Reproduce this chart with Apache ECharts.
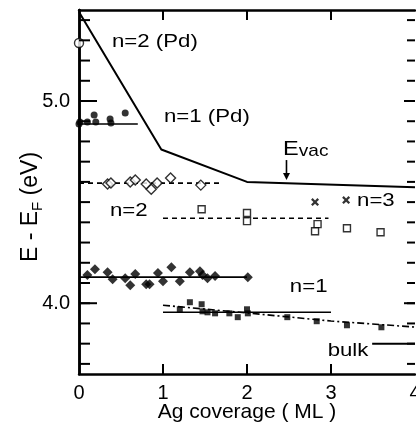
<!DOCTYPE html>
<html><head><meta charset="utf-8">
<script src="https://cdn.jsdelivr.net/npm/echarts@6/dist/echarts.min.js"></script>
<style>html,body{margin:0;padding:0;background:#fff}#c{width:416px;height:423px}</style>
</head><body><div id="c"></div>
<script>
// ---- tick values / labels ----
const xTickValues = [0, 1, 2, 3, 4];
const xInnerTicks = [1, 2, 3];
const yMajorTicks = [4.0, 5.0];
const yMinorTicks = [3.7, 3.8, 3.9, 4.0, 4.1, 4.2, 4.3, 4.4, 4.5, 4.6, 4.7, 4.8, 4.9, 5.0, 5.1, 5.2, 5.3, 5.4];
const xName = 'Ag coverage ( ML )';

// ---- data (Ag coverage ML, E - EF eV) ----
const evacLine = [[0, 5.44], [0.98, 4.76], [2.0, 4.60], [4.0, 4.574]];
const pdN2Points = [[0, 5.287]];
const pdN1Points = [[0, 4.886], [0.01, 4.896], [0.10, 4.896], [0.18, 4.931], [0.20, 4.896], [0.37, 4.911], [0.38, 4.891], [0.55, 4.941]];
const pdN1Fit = [[0, 4.886], [0.70, 4.886]];
const n2Diamonds = [[0.34, 4.589], [0.38, 4.594], [0.61, 4.599], [0.67, 4.609], [0.80, 4.589], [0.86, 4.564], [0.93, 4.594], [1.09, 4.619], [1.45, 4.584]];
const n2DiamondFit = [[0, 4.594], [1.70, 4.594]];
const n2Squares = [[1.46, 4.465], [2.00, 4.446], [2.00, 4.406], [2.84, 4.391], [2.81, 4.356], [3.19, 4.371], [3.59, 4.351]];
const n2SquareFit = [[1.0, 4.42], [2.97, 4.42]];
const n3Crosses = [[2.81, 4.50], [3.18, 4.51]];
const n1Diamonds = [[0.10, 4.139], [0.19, 4.168], [0.34, 4.153], [0.40, 4.119], [0.55, 4.124], [0.61, 4.089], [0.67, 4.144], [0.80, 4.094], [0.84, 4.094], [0.94, 4.149], [1.00, 4.109], [1.10, 4.178], [1.20, 4.109], [1.32, 4.153], [1.44, 4.158], [1.47, 4.139], [1.53, 4.124], [1.62, 4.134], [2.01, 4.129]];
const n1DiamondFit = [[0, 4.129], [2.0, 4.129]];
const n1Squares = [[1.20, 3.970], [1.32, 4.005], [1.46, 3.995], [1.47, 3.960], [1.53, 3.955], [1.62, 3.950], [1.79, 3.950], [1.89, 3.931], [2.00, 3.970], [2.01, 3.950], [2.48, 3.931], [2.83, 3.911], [3.19, 3.891], [3.60, 3.881]];
const n1SquareFit = [[1.0, 3.955], [3.0, 3.955]];
const n1Trend = [[1.0, 3.99], [2.0, 3.952], [3.0, 3.912], [4.0, 3.882]];
const bulkLine = [[3.49, 3.80], [4.0, 3.80]];
const evacArrow = [[2.47, 4.708], [2.47, 4.609]];

// ---- annotation labels [text, c, E] ----
const annotations = [
  ['n=2 (Pd)', 0.393, 5.292],
  ['n=1 (Pd)', 1.012, 4.921],
  ['n=2', 0.369, 4.455],
  ['n=3', 3.31, 4.505],
  ['n=1', 2.51, 4.079],
  ['bulk', 2.96, 3.762]
];
const evacLabelPos = [2.43, 4.77];

const FONT = '"Liberation Sans", Arial, Helvetica, sans-serif';
const chart = echarts.init(document.getElementById('c'), null, {renderer: 'canvas'});
const BLACK = '#000';
const crossPath = 'path://M0,2L2,0L5,3L8,0L10,2L7,5L10,8L8,10L5,7L2,10L0,8L3,5Z';

function lineSeries(data, type, width) {
  return {type: 'line', data, showSymbol: false, symbol: 'none', silent: true, z: 3,
    lineStyle: {color: BLACK, width: width || 1.6, type: type || 'solid'}};
}
function scatterSeries(data, symbol, size, filled) {
  return {type: 'scatter', data, symbol, symbolSize: size, clip: false, silent: true, z: 4,
    itemStyle: filled ? {color: BLACK} : {color: '#fff', borderColor: BLACK, borderWidth: 1.4}};
}
const yBase = {type: 'value', min: 3.65, max: 5.45, splitLine: {show: false}, axisTick: {show: false}};
const option = {
  animation: false,
  grid: {left: 79, right: 1, top: 10, bottom: 49, outerBoundsMode: 'none', containLabel: false},
  xAxis: [
    {type: 'value', min: 0, max: 4, interval: 1, position: 'bottom',
      axisLine: {show: true, lineStyle: {color: BLACK, width: 2.5}},
      axisTick: {show: false},
      axisLabel: {customValues: xTickValues, fontSize: 20, margin: 9, color: BLACK, fontFamily: FONT,
        alignMinLabel: 'center', alignMaxLabel: 'center', hideOverlap: false, formatter: v => String(v)},
      splitLine: {show: false},
      name: xName, nameLocation: 'middle', nameGap: 28, nameMoveOverlap: false,
      nameTextStyle: {fontSize: 21, color: BLACK, fontFamily: FONT}},
    {type: 'value', min: 0, max: 4, interval: 1, position: 'top',
      axisLine: {show: true, lineStyle: {color: BLACK, width: 2.5}},
      axisTick: {show: false},
      axisLabel: {show: false}, splitLine: {show: false}}
  ],
  yAxis: [
    Object.assign({}, yBase, {position: 'left',
      axisLine: {show: true, lineStyle: {color: BLACK, width: 2.5}},
      axisLabel: {customValues: yMajorTicks, fontSize: 20, margin: 9, color: BLACK, fontFamily: FONT, formatter: v => v.toFixed(1)},
      name: '{m|E - E}{s|F}{m| (eV)}', nameLocation: 'middle', nameGap: 34, nameMoveOverlap: false,
      nameTextStyle: {color: BLACK, fontFamily: FONT, padding: [0, 30, 0, 0],
        rich: {m: {fontSize: 23, fontFamily: FONT, color: BLACK, lineHeight: 28, verticalAlign: 'middle'},
               s: {fontSize: 15, fontFamily: FONT, color: BLACK, lineHeight: 28, verticalAlign: 'bottom'}}}}),
    Object.assign({}, yBase, {position: 'right',
      axisLine: {show: true, lineStyle: {color: BLACK, width: 2.5}},
      axisLabel: {show: false}})
  ],
  series: [
    lineSeries(evacLine, 'solid', 2),
    lineSeries(pdN1Fit, 'solid', 1.6),
    lineSeries(n2DiamondFit, [5, 4], 1.6),
    lineSeries(n2SquareFit, [5, 4], 1.6),
    lineSeries(n1DiamondFit, 'solid', 1.6),
    lineSeries(n1SquareFit, 'solid', 1.6),
    lineSeries(n1Trend, [7, 3, 2, 3], 1.6),
    lineSeries(bulkLine, 'solid', 2),
    scatterSeries(pdN2Points, 'circle', 9, false),
    scatterSeries(pdN1Points, 'circle', 7, true),
    scatterSeries(n2Diamonds, 'diamond', 10, false),
    scatterSeries(n2Squares, 'rect', 7, false),
    scatterSeries(n3Crosses, crossPath, 8, true),
    scatterSeries(n1Diamonds, 'diamond', 10, true),
    scatterSeries(n1Squares, 'rect', 6, true)
  ]
};
chart.setOption(option);

const toPx = p => chart.convertToPixel({xAxisIndex: 0, yAxisIndex: 0}, p);
const graphics = [];
function tick(x1, y1, x2, y2) {
  graphics.push({type: 'line', silent: true, z: 8, shape: {x1, y1, x2, y2}, style: {stroke: BLACK, lineWidth: 2}});
}
// inward ticks on all four sides, placed through the axes' scales
yMinorTicks.forEach(v => {
  const l = toPx([0, v]), r = toPx([4, v]);
  tick(l[0], l[1], l[0] + 11, l[1]);
  tick(r[0] - 8, r[1], r[0], r[1]);
});
yMajorTicks.forEach(v => {
  const l = toPx([0, v]), r = toPx([4, v]);
  tick(l[0], l[1], l[0] + 18, l[1]);
  tick(r[0] - 11, r[1], r[0], r[1]);
});
xInnerTicks.forEach(v => {
  const b = toPx([v, 3.65]), t = toPx([v, 5.45]);
  tick(b[0], b[1], b[0], b[1] - 10);
  tick(t[0], t[1], t[0], t[1] + 10);
});

annotations.forEach(([t, c, e]) => {
  const p = toPx([c, e]);
  graphics.push({type: 'text', x: p[0], y: p[1], scaleX: 1.2, silent: true, z: 10,
    style: {text: t, fill: BLACK, font: '18.5px ' + FONT, textAlign: 'left', textVerticalAlign: 'middle'}});
});
const ev = toPx(evacLabelPos);
graphics.push({type: 'text', x: ev[0], y: ev[1], scaleX: 1.12, silent: true, z: 10,
  style: {text: '{a|E}{b|vac}', textAlign: 'left', textVerticalAlign: 'middle',
    rich: {a: {fontSize: 21, fontFamily: FONT, fill: BLACK, lineHeight: 24, verticalAlign: 'bottom'},
           b: {fontSize: 17, fontFamily: FONT, fill: BLACK, lineHeight: 24, verticalAlign: 'bottom'}}}});
// Evac arrow
const a0 = toPx(evacArrow[0]), a1 = toPx(evacArrow[1]);
graphics.push({type: 'line', silent: true, z: 10, shape: {x1: a0[0], y1: a0[1], x2: a1[0], y2: a1[1] - 4}, style: {stroke: BLACK, lineWidth: 1.6}});
graphics.push({type: 'polygon', silent: true, z: 10, shape: {points: [[a1[0] - 3.5, a1[1] - 7], [a1[0] + 3.5, a1[1] - 7], [a1[0], a1[1]]]}, style: {fill: BLACK}});
chart.setOption({graphic: graphics});
</script></body></html>
